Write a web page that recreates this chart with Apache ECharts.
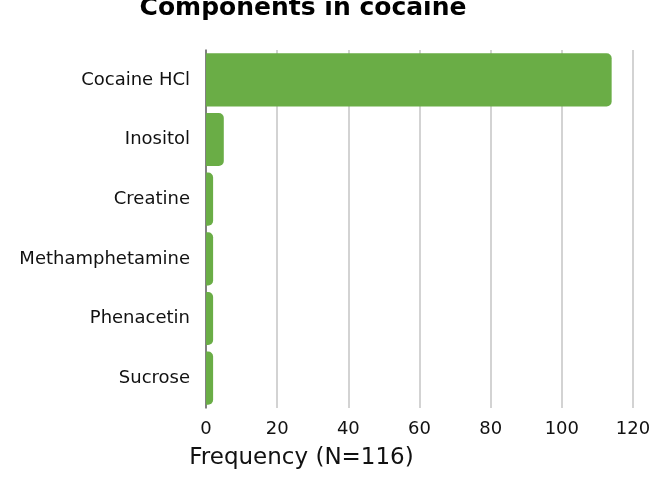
<!DOCTYPE html>
<html>
<head>
<meta charset="utf-8">
<script src="https://cdn.jsdelivr.net/npm/echarts@6/dist/echarts.min.js"></script>
<style>
html,body{margin:0;padding:0;background:#fff;}
#chart{width:665px;height:480px;}
</style>
</head>
<body>
<div id="chart"></div>
<script>
const categories = ["Cocaine HCl", "Inositol", "Creatine", "Methamphetamine", "Phenacetin", "Sucrose"];
const frequencies = [114, 5, 2, 2, 2, 2];
const xTicks = [0, 20, 40, 60, 80, 100, 120];

const FONT = 'DejaVu Sans';
const chart = echarts.init(document.getElementById('chart'));
chart.setOption({
  backgroundColor: '#ffffff',
  animation: false,
  title: {
    text: 'Components in cocaine',
    left: 298,
    textAlign: 'center',
    top: -9,
    textStyle: { fontFamily: FONT, fontWeight: 'bold', fontSize: 25, color: '#000' }
  },
  grid: { left: 206, right: 32, top: 50, bottom: 72, containLabel: false },
  xAxis: {
    type: 'value',
    min: xTicks[0],
    max: xTicks[xTicks.length - 1],
    interval: 20,
    name: 'Frequency (N=116)',
    nameLocation: 'middle',
    nameGap: 39,
    nameTextStyle: { fontFamily: FONT, fontSize: 23, color: '#111', padding: [0, 236, 0, 0] },
    axisLine: { show: false },
    axisTick: { show: false },
    axisLabel: { fontFamily: FONT, fontSize: 18, color: '#111', margin: 12 },
    splitLine: { show: true, lineStyle: { color: '#c4c4c4', width: 1.5 } }
  },
  yAxis: {
    type: 'category',
    data: categories,
    inverse: true,
    axisLine: { show: true, lineStyle: { color: '#666', width: 1.5 } },
    axisTick: { show: false },
    axisLabel: { fontFamily: FONT, fontSize: 18, color: '#111', margin: 16 }
  },
  series: [{
    type: 'bar',
    data: frequencies,
    barCategoryGap: '11%',
    itemStyle: { color: '#6aad46', borderRadius: [0, 5, 5, 0] }
  }]
});
</script>
</body>
</html>
